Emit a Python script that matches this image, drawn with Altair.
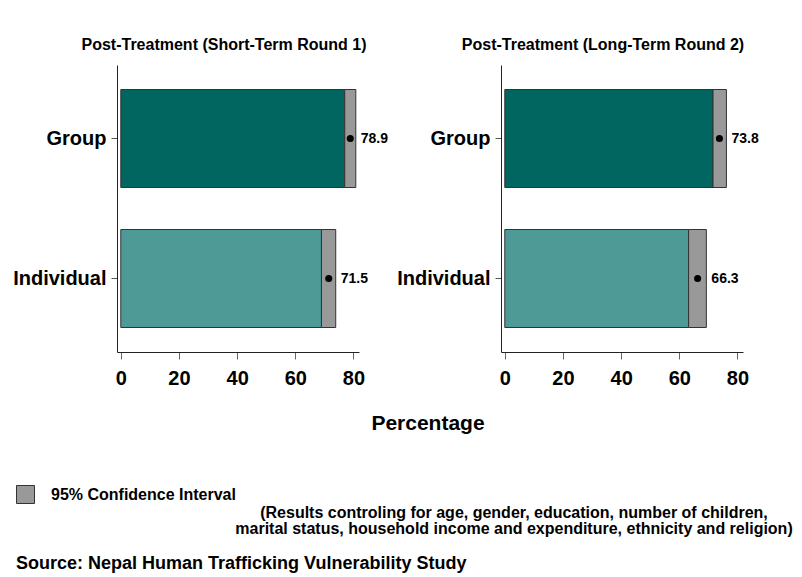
import altair as alt
import pandas as pd

FONT = "Liberation Sans"

panel_titles = ["Post-Treatment (Short-Term Round 1)", "Post-Treatment (Long-Term Round 2)"]
groups = ["Group", "Individual"]
means = [[78.9, 71.5], [73.8, 66.3]]
lower = [[77.0, 69.0], [71.6, 63.2]]
upper = [[80.8, 73.9], [76.2, 69.3]]
x_ticks = [0, 20, 40, 60, 80]
ci_label = "95% Confidence Interval"

axis_title = "Percentage"
note = "(Results controling for age, gender, education, number of children,\nmarital status, household income and expenditure, ethnicity and religion)"
source = "Source: Nepal Human Trafficking Vulnerability Study"

bar_colors = ["#00665F", "#4E9A96"]
ci_color = "#999999"

x_scale = alt.Scale(domain=[-1.3, 81.9], nice=False, zero=False)
y_scale = alt.Scale(domain=groups, paddingInner=0.3, paddingOuter=0.175)


def text_layer(t, x, y, size, align="left", **kw):
    return alt.Chart(pd.DataFrame({"t": [t]})).mark_text(
        align=align, baseline="middle", fontSize=size, fontWeight="bold", font=FONT,
        color="#000", **kw
    ).encode(text="t:N", x=alt.value(x), y=alt.value(y))


def panel(i, dx, extras=()):
    df = pd.DataFrame({
        "grp": groups,
        "mean": means[i],
        "lo": lower[i],
        "hi": upper[i],
        "ci": [ci_label] * len(groups),
        "label": [f"{m:.1f}" for m in means[i]],
    })
    base = alt.Chart(df)
    y = alt.Y("grp:N", sort=groups, scale=y_scale, title=None,
              axis=alt.Axis(labelFontSize=20, labelFontWeight="bold", labelFont=FONT,
                            labelColor="#000", tickSize=6, tickColor="#555",
                            labelPadding=5, domainColor="#222", grid=False))
    x = alt.X("lo:Q", scale=x_scale, title=None,
              axis=alt.Axis(values=x_ticks, labelFontSize=20, labelFontWeight="bold",
                            labelFont=FONT, labelColor="#000", tickSize=7, tickColor="#666",
                            labelPadding=9, domainColor="#222", grid=False, labelFlush=False))
    bars = base.mark_bar(stroke="#333", strokeWidth=1, opacity=1).encode(
        x=x,
        y=y,
        fill=alt.Fill("grp:N", scale=alt.Scale(domain=groups, range=bar_colors), legend=None),
    )
    ci = base.mark_bar(stroke="#333", strokeWidth=1, opacity=1).encode(
        x=alt.X("lo:Q", scale=x_scale),
        x2="hi:Q",
        y=y,
        color=alt.Color("ci:N", scale=alt.Scale(domain=[ci_label], range=[ci_color]),
                        legend=alt.Legend(orient="none", legendX=-101, legendY=420, title=None,
                                          symbolType="square", symbolSize=324,
                                          symbolStrokeColor="#333", symbolStrokeWidth=1,
                                          symbolOpacity=1, labelFontSize=16,
                                          labelFontWeight="bold", labelFont=FONT,
                                          labelColor="#000", labelOffset=16,
                                          labelLimit=400)),
    )
    pts = base.mark_circle(size=50, color="#000", opacity=1).encode(
        x=alt.X("mean:Q", scale=x_scale), y=y)
    txt = base.mark_text(align="left", baseline="middle", dx=5, fontSize=14,
                         fontWeight="bold", font=FONT, color="#000").encode(
        x=alt.X("hi:Q", scale=x_scale), y=y, text="label:N")
    return alt.layer(bars, ci, pts, txt, *extras).properties(
        width=242, height=287,
        title=alt.TitleParams(panel_titles[i], fontSize=16, fontWeight="bold", font=FONT,
                              color="#000", anchor="middle", dx=dx, offset=12),
    )


extras = [
    text_layer(axis_title, 311, 359, 21, align="center"),
    text_layer(note, 397, 448, 16, align="center", lineBreak="\n", lineHeight=16),
    text_layer(source, -101, 499, 18),
]

left = panel(0, -14, extras)
right = panel(1, -19)

chart = alt.hconcat(left, right, spacing=142, bounds="flush").properties(
    padding={"left": 4, "top": 29, "right": 0, "bottom": 0},
    background="white",
).configure_view(stroke=None)

chart.save("out.html", embed_options={"renderer": "svg", "actions": False})
